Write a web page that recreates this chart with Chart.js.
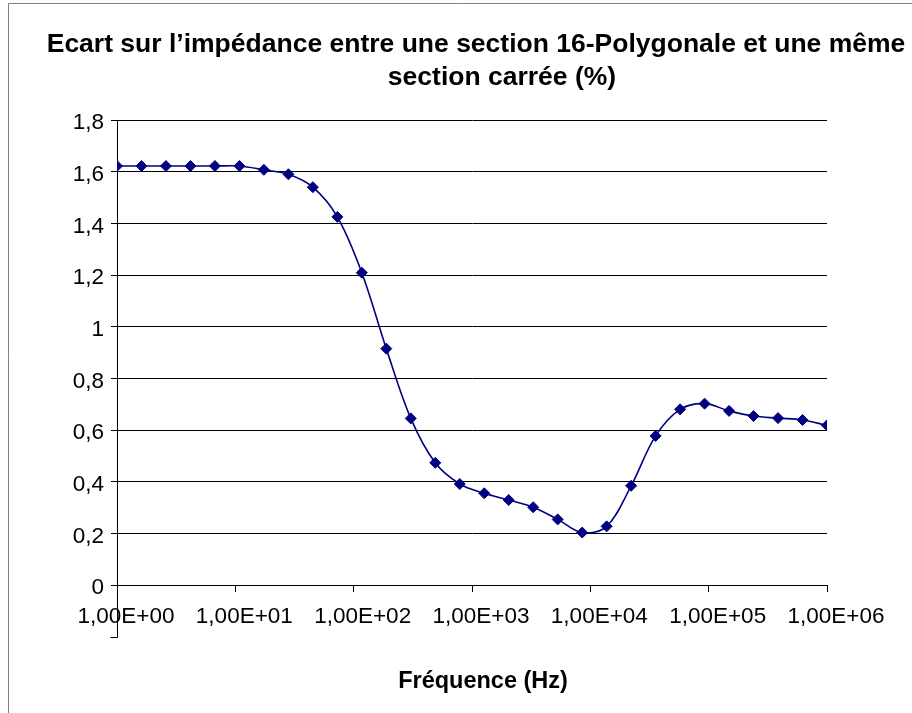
<!DOCTYPE html>
<html>
<head>
<meta charset="utf-8">
<title>Ecart sur l'impédance</title>
<script src="https://cdn.jsdelivr.net/npm/chart.js@4.4.1/dist/chart.umd.min.js"></script>
<style>
  html, body { margin: 0; padding: 0; background: #fff; overflow: hidden; }
  #wrap { position: relative; width: 912px; height: 713px; }
</style>
</head>
<body>
<div id="wrap"><canvas id="chart"></canvas></div>
<script>
// frequencies (Hz), 30 log-spaced points from 1 Hz to 1 MHz
var frequences = [
  1, 1.610, 2.593, 4.175, 6.723,
  10.83, 17.43, 28.07, 45.20, 72.79,
  117.2, 188.7, 303.9, 489.3, 788.0,
  1269, 2043, 3290, 5298, 8532,
  13738, 22122, 35622, 57362, 92367,
  148735, 239503, 385662, 621017, 1000000
];

// impedance gap, 16-sided polygon vs square section (%)
var ecart = [
  1.622, 1.622, 1.622, 1.622, 1.622,
  1.622, 1.607, 1.590, 1.540, 1.425,
  1.209, 0.915, 0.645, 0.473, 0.391,
  0.355, 0.329, 0.301, 0.254, 0.203,
  0.227, 0.384, 0.577, 0.680, 0.702,
  0.674, 0.654, 0.646, 0.639, 0.618
];

var decades = [1, 10, 100, 1000, 10000, 100000, 1000000];

var titleLines = ['Ecart sur l\u2019impédance entre une section 16-Polygonale et une même', 'section carrée (%)'];
var xTitle = 'Fréquence (Hz)';

var points = frequences.map(function(f, i) { return { x: f, y: ecart[i] }; });

var FONT = '"Liberation Sans", Arial, sans-serif';

// frame, titles and the little axis overshoot below zero
var decor = {
  id: 'decor',
  afterDraw: function(chart) {
    var c = chart.ctx, a = chart.chartArea;
    c.save();
    c.strokeStyle = '#808080';
    c.lineWidth = 1;
    c.beginPath();
    c.moveTo(8.5, 720);
    c.lineTo(8.5, 3.5);
    c.lineTo(920, 3.5);
    c.stroke();

    c.strokeStyle = '#000';
    c.beginPath();
    var ax = Math.round(a.left) + 0.5;
    c.moveTo(ax, a.bottom);
    c.lineTo(ax, a.bottom + 52.5);
    c.lineTo(ax - 7, a.bottom + 52.5);
    c.stroke();

    c.fillStyle = '#000';
    c.textAlign = 'center';
    c.textBaseline = 'alphabetic';
    c.font = 'bold 26.5px ' + FONT;
    c.fillText(titleLines[0], 476, 52);
    c.fillText(titleLines[1], 502, 85);
    c.font = 'bold 23.5px ' + FONT;
    c.fillText(xTitle, 483, 688);
    c.restore();
  }
};

new Chart(document.getElementById('chart'), {
  type: 'line',
  data: {
    datasets: [{
      data: points,
      borderColor: '#000080',
      backgroundColor: '#000080',
      borderWidth: 1.6,
      tension: 0.35,
      pointStyle: 'rectRot',
      pointRadius: 5.5,
      pointBorderWidth: 1,
      pointBackgroundColor: '#000080',
      pointBorderColor: '#000080'
    }]
  },
  options: {
    responsive: true,
    maintainAspectRatio: false,
    animation: false,
    layout: { padding: { top: 120, left: 0, right: 85, bottom: 0 } },
    plugins: {
      legend: { display: false },
      title: { display: false },
      tooltip: { enabled: false }
    },
    scales: {
      x: {
        type: 'logarithmic',
        min: 1,
        max: 1000000,
        afterBuildTicks: function(scale) {
          scale.ticks = decades.map(function(v) { return { value: v }; });
        },
        afterFit: function(scale) { scale.height = 128; },
        grid: { drawOnChartArea: false, drawTicks: true, tickLength: 7, color: '#000' },
        border: { display: true, color: '#000' },
        ticks: {
          autoSkip: false,
          maxRotation: 0,
          padding: 11,
          labelOffset: 9,
          color: '#000',
          font: { family: FONT, size: 22.5 },
          callback: function(v) {
            var e = Math.round(Math.log10(v));
            return '1,00E+' + (e < 10 ? '0' : '') + e;
          }
        }
      },
      y: {
        min: 0,
        max: 1.8,
        afterFit: function(scale) { scale.width = 117; },
        grid: { color: '#000', tickLength: 6, drawTicks: true },
        border: { display: true, color: '#000' },
        ticks: {
          stepSize: 0.2,
          padding: 7,
          labelOffset: 3,
          color: '#000',
          font: { family: FONT, size: 22.5 },
          callback: function(v) {
            return String(Math.round(v * 10) / 10).replace('.', ',');
          }
        }
      }
    }
  },
  plugins: [decor]
});
</script>
</body>
</html>
